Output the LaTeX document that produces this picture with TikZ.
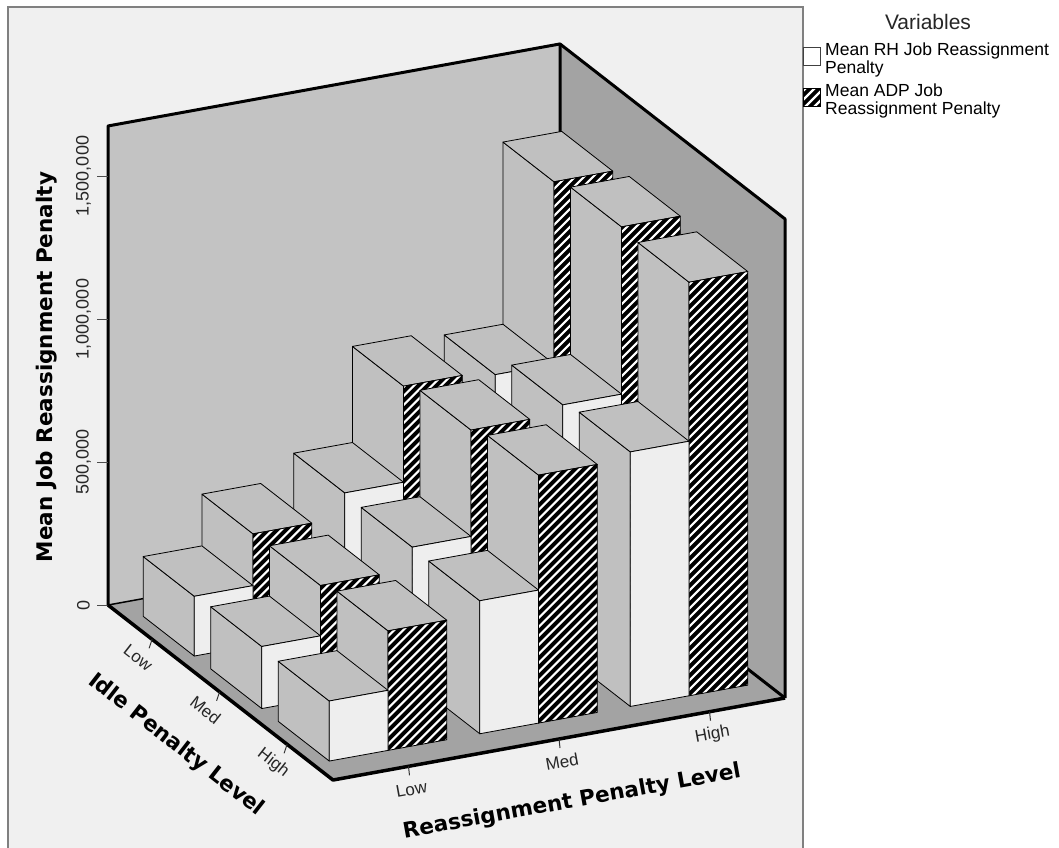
\documentclass[tikz,border=0pt]{standalone}
\usepackage{fontspec}
\setmainfont{Liberation Sans}
\newfontfamily\titlefont{DejaVu Sans}

\definecolor{panel}{HTML}{F0F0F0}
\definecolor{backwall}{HTML}{C3C3C3}
\definecolor{sidewall}{HTML}{A3A3A3}
\definecolor{barside}{HTML}{C0C0C0}
\definecolor{rhwhite}{HTML}{EEEEEE}

\newcommand{\barwid}{0.13}
\newcommand{\bardep}{0.227}
\newcommand{\wallh}{16.75}
% one bar: left x, front y, height (in 100,000), style of the front face
\newcommand{\penbox}[4]{%
  \path[side] (#1,#2-\bardep,0) -- (#1,#2,0) -- (#1,#2,#3) -- (#1,#2-\bardep,#3) -- cycle;
  \path[side] (#1,#2-\bardep,#3) -- (#1+\barwid,#2-\bardep,#3) -- (#1+\barwid,#2,#3) -- (#1,#2,#3) -- cycle;
  \path[#4] (#1,#2,0) -- (#1+\barwid,#2,0) -- (#1+\barwid,#2,#3) -- (#1,#2,#3) -- cycle;
}
% white stripes on the black front of an ADP bar
\newcommand{\hatchfront}[3]{%
  \begin{scope}
    \clip (#1,#2,0) -- (#1+\barwid,#2,0) -- (#1+\barwid,#2,#3) -- (#1,#2,#3) -- cycle;
    \foreach \k in {-50,...,8}
      \draw[white, line width=2.2pt] (#1,#2,0) ++(\k*9pt,-12pt) -- ++(480pt,480pt);
  \end{scope}
  \draw[line width=0.8pt, line join=round] (#1,#2,0) -- (#1+\barwid,#2,0) -- (#1+\barwid,#2,#3) -- (#1,#2,#3) -- cycle;
}

\begin{document}
\begin{tikzpicture}[x=1pt, y=-1pt,
  side/.style={fill=barside, draw=black, line width=0.8pt, line join=round},
  rhface/.style={fill=rhwhite, draw=black, line width=0.8pt, line join=round},
  adpface/.style={fill=black},
  ticklab/.style={font=\fontsize{17}{17}\selectfont, text=black!85, inner sep=0pt},
  axtitle/.style={font=\titlefont\bfseries\fontsize{21.5}{21.5}\selectfont, inner sep=0pt},
  keytext/.style={anchor=north west, align=left, inner sep=0pt, font=\fontsize{17.5}{18}\selectfont}]

  \useasboundingbox (0,0) rectangle (1059,847);
  \fill[white] (0,0) rectangle (1059,847);
  \draw[fill=panel, draw=gray, line width=1.5pt] (8,7) rectangle (803,870);

  \begin{scope}[shift={(108,605)}, x={(452pt,82pt)}, y={(225pt,-175pt)}, z={(0pt,28.6pt)}]
    % walls and floor
    \fill[backwall] (0,0,0) -- (1,0,0) -- (1,0,\wallh) -- (0,0,\wallh) -- cycle;
    \fill[sidewall] (1,0,0) -- (1,1,0) -- (1,1,\wallh) -- (1,0,\wallh) -- cycle;
    \fill[sidewall] (0,0,0) -- (1,0,0) -- (1,1,0) -- (0,1,0) -- cycle;
    \draw[line width=1.5pt] (0,0,0) -- (1,0,0);
    \draw[line width=3pt, line join=round] (0,0,0) -- (0,0,\wallh) -- (1,0,\wallh) -- (1,1,\wallh) -- (1,1,0);
    \draw[line width=3pt, line join=round] (1,0,\wallh) -- (1,0,0) -- (1,1,0);

    % value axis
    \foreach \v/\lab [count=\i] in {0/0, 5/{500,000}, 10/{1,000,000}, 15/{1,500,000}} {
      \draw[black!70, line width=1pt] (0,0,\v) -- ++(-11pt,0pt);
      \path (0,0,\v) ++(-24.5pt,0pt) node[ticklab, rotate=90, font=\fontsize{18}{18}\selectfont] (ylab\i) {\lab};
    }

    % bars, back row first
    \foreach \yf/\cx/\rh/\adp in {
        0.309/0.833/7.93/14.30, 0.309/0.5/4.75/8.11, 0.309/0.167/2.09/3.90,
        0.609/0.833/8.71/14.56, 0.609/0.5/4.69/8.41, 0.609/0.167/2.17/3.93,
        0.909/0.833/8.90/14.46, 0.909/0.5/4.65/8.67, 0.909/0.167/2.10/4.18} {
      \penbox{\cx}{\yf}{\adp}{adpface}
      \hatchfront{\cx}{\yf}{\adp}
      \penbox{\cx-\barwid}{\yf}{\rh}{rhface}
    }

    \draw[line width=3.5pt, line join=round] (0,0,0) -- (0,1,0) -- (1,1,0);

    % category axes
    \foreach \c/\lab [count=\i] in {0.196/Low, 0.496/Med, 0.796/High} {
      \draw[black!80, line width=1pt] (0,\c,0) -- ++(-3pt,-9pt);
      \path (0,\c,0) ++(-14pt,-18.5pt) node[ticklab, rotate=-38] (idlelab\i) {\lab};
    }
    \foreach \c/\lab [count=\i] in {0.167/Low, 0.5/Med, 0.833/High} {
      \draw[black!80, line width=1pt] (\c,1,0) -- ++(1pt,-9pt);
      \path (\c,1,0) ++(3pt,-23pt) node[ticklab, rotate=10.3] (reaslab\i) {\lab};
    }
  \end{scope}

  % axis titles
  \node[axtitle, rotate=90] (ytitle) at (47,367) {Mean Job Reassignment Penalty};
  \node[axtitle, rotate=-38] (idletitle) at (176,745) {Idle Penalty Level};
  \node[axtitle, rotate=10.3] (reastitle) at (572,802) {Reassignment Penalty Level};

  % legend
  \node[font=\fontsize{21}{21}\selectfont, text=black!85, inner sep=0pt] (vartitle) at (928,22) {Variables};
  \draw[fill=white, draw=black!75, line width=1pt] (803,47) rectangle (820,65);
  \begin{scope}
    \clip (803,88) rectangle (820,106);
    \fill[black] (803,88) rectangle (820,106);
    \foreach \k in {-3,...,2}
      \draw[white, line width=2.2pt] (803+\k*9,109) -- ++(24,-24);
  \end{scope}
  \draw[line width=0.8pt] (803,88) rectangle (820,106);
  \node[keytext] (rhkey) at (825,43) {Mean RH Job Reassignment\\Penalty};
  \node[keytext] (adpkey) at (825,84) {Mean ADP Job\\Reassignment Penalty};
\end{tikzpicture}
\end{document}
